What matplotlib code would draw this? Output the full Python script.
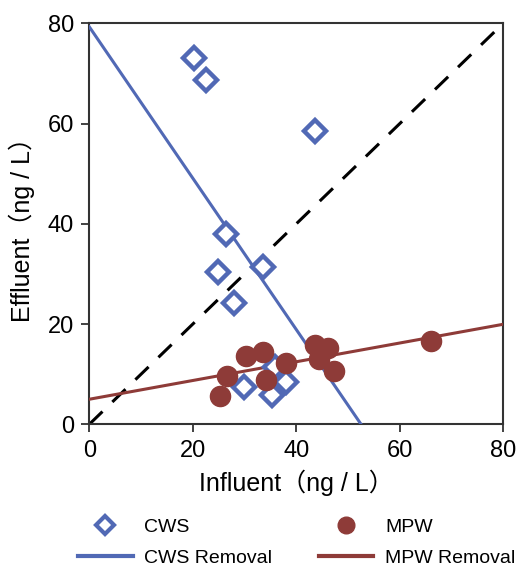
import matplotlib
matplotlib.use("Agg")
import matplotlib.pyplot as plt
from matplotlib.lines import Line2D
import numpy as np

plt.rcParams['font.family'] = ['Liberation Sans', 'DejaVu Sans']

# Data
cws_influent = [20.3, 22.5, 43.6, 26.5, 24.8, 33.6, 28.0, 29.8, 35.4, 38.1, 35.9]
cws_effluent = [73.1, 68.6, 58.6, 38.0, 30.4, 31.4, 24.3, 7.4, 5.8, 8.5, 11.5]
mpw_influent = [25.3, 26.7, 30.2, 33.5, 34.1, 38.0, 43.7, 46.2, 44.4, 47.3, 66.0]
mpw_effluent = [5.7, 9.7, 13.7, 14.5, 8.8, 12.3, 15.8, 15.2, 13.0, 10.6, 16.6]
cws_fit = [-1.51, 79.3]   # slope, intercept
mpw_fit = [0.187, 5.0]
ticks = [0, 20, 40, 60, 80]

blue = "#5169B5"
red = "#8E3B38"

fig = plt.figure(figsize=(5.18, 5.69), dpi=100)
ax = fig.add_axes([0.1724, 0.2543, 0.7992, 0.7047])

xs = np.linspace(0, 80, 200)
# 1:1 line
ax.plot([0, 80], [0, 80], color="black", lw=2.2, dashes=(6, 4.5), zorder=2)
# removal lines
ax.plot(xs, cws_fit[0] * xs + cws_fit[1], color=blue, lw=2.2, zorder=3)
ax.plot(xs, mpw_fit[0] * xs + mpw_fit[1], color=red, lw=2.2, zorder=3)

ax.plot(cws_influent, cws_effluent, linestyle="none", marker="D", markersize=11,
        markerfacecolor="white", markeredgecolor=blue, markeredgewidth=3.2, zorder=4)
ax.plot(mpw_influent, mpw_effluent, linestyle="none", marker="o", markersize=14.5,
        markerfacecolor=red, markeredgecolor=red, zorder=5)

ax.set_xlim(0, 80)
ax.set_ylim(0, 80)
ax.set_xticks(ticks)
ax.set_yticks(ticks)
ax.tick_params(direction="out", length=6, width=1.3, color="#333333",
               labelsize=17, pad=5)
for s in ax.spines.values():
    s.set_color("#333333")
    s.set_linewidth(1.5)

ax.set_xlabel("Influent（ng / L）", fontsize=18,
              family=['Liberation Sans', 'Noto Sans CJK SC'], labelpad=6)
ax.set_ylabel("Effluent（ng / L）", fontsize=18,
              family=['Liberation Sans', 'Noto Sans CJK SC'], labelpad=9)

handles = [
    Line2D([], [], linestyle="none", marker="D", markersize=9, markerfacecolor="white",
           markeredgecolor=blue, markeredgewidth=3),
    Line2D([], [], linestyle="none", marker="o", markersize=12, color=red),
    Line2D([], [], color=blue, lw=3),
    Line2D([], [], color=red, lw=3),
]
labels = ["CWS", "MPW", "CWS Removal", "MPW Removal"]
order = [0, 2, 1, 3]
fig.legend([handles[i] for i in order], [labels[i] for i in order], ncol=2,
           loc="center", bbox_to_anchor=(0.573, 0.046), frameon=False,
           fontsize=14, handlelength=2.8, columnspacing=2.4, labelspacing=0.7,
           handletextpad=0.6, borderpad=0.2)

fig.savefig("out.png", dpi=100)
